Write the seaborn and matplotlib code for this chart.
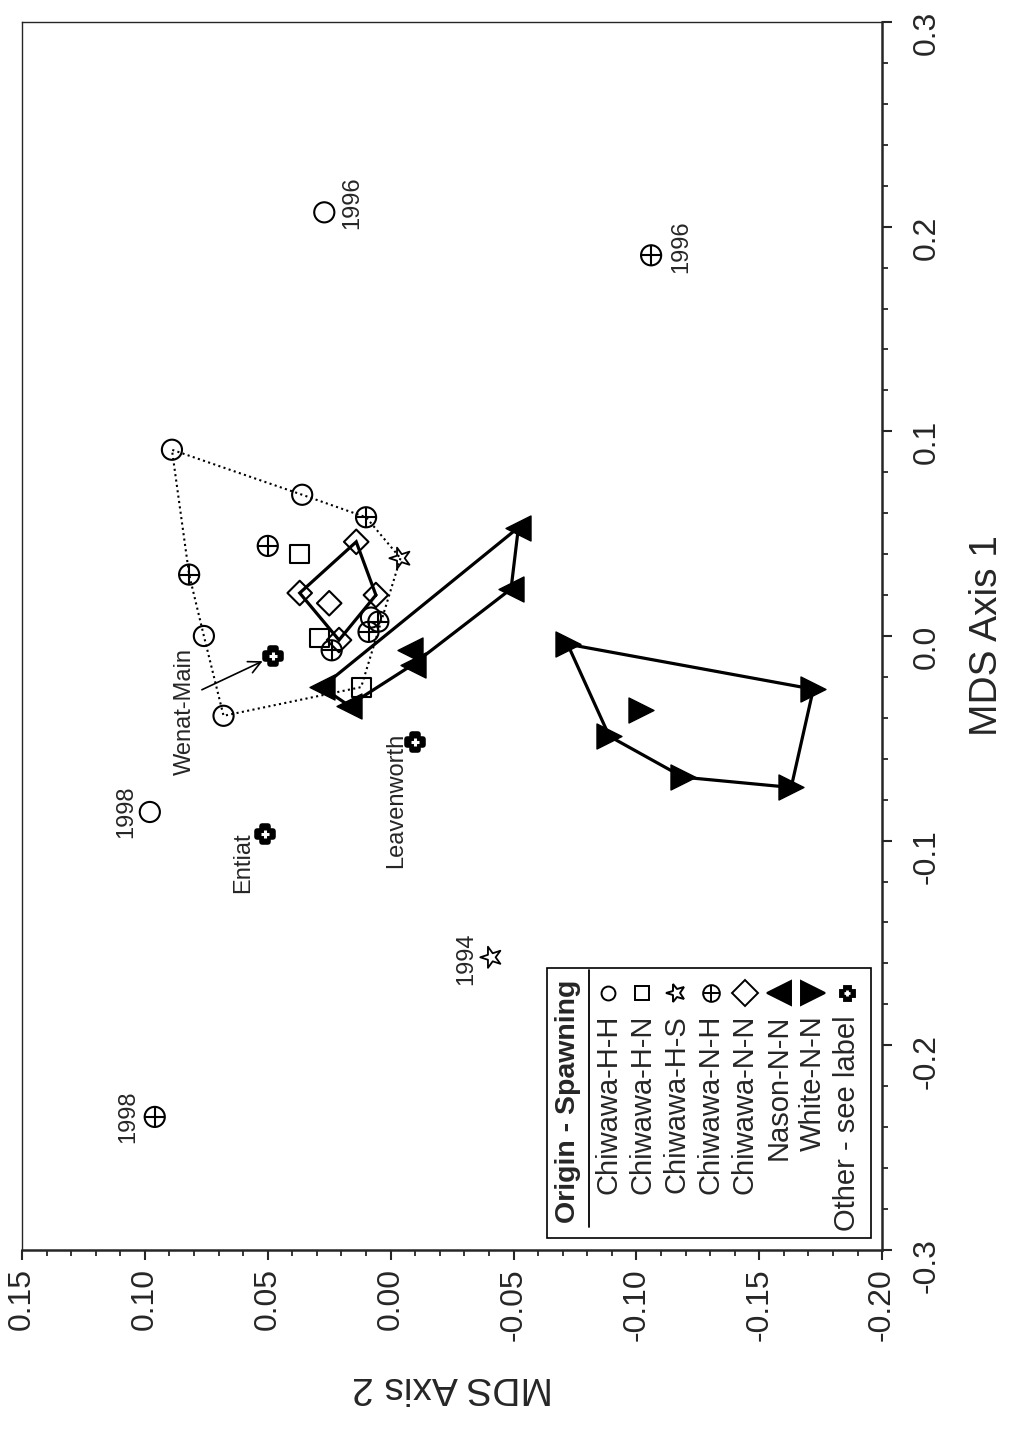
import matplotlib
matplotlib.use("Agg")
import matplotlib.pyplot as plt
import seaborn as sns
import pandas as pd
from matplotlib.markers import MarkerStyle
from matplotlib.transforms import Affine2D
from matplotlib.ticker import MultipleLocator, FuncFormatter
from matplotlib.patches import Rectangle

# MDS scores (axis 1, axis 2) for each origin - spawning group
hh_ax1 = [0.207, 0.091, 0.069, 0.009, 0.000, -0.039, -0.086]
hh_ax2 = [0.027, 0.089, 0.036, 0.008, 0.076, 0.068, 0.098]
hh_lab = ["1996", "", "", "", "", "", "1998"]

hn_ax1 = [0.040, -0.001, -0.025]
hn_ax2 = [0.037, 0.029, 0.012]
hn_lab = ["", "", ""]

hs_ax1 = [0.038, -0.157]
hs_ax2 = [-0.004, -0.041]
hs_lab = ["", "1994"]

nh_ax1 = [0.186, 0.058, 0.044, 0.030, 0.007, 0.002, -0.007, -0.235]
nh_ax2 = [-0.106, 0.010, 0.050, 0.082, 0.005, 0.009, 0.024, 0.096]
nh_lab = ["1996", "", "", "", "", "", "", "1998"]

nn_ax1 = [0.046, 0.021, 0.016, 0.020, -0.002]
nn_ax2 = [0.014, 0.037, 0.025, 0.006, 0.021]

nason_ax1 = [-0.025, -0.034, -0.007, -0.014, 0.023, 0.053]
nason_ax2 = [0.028, 0.017, -0.008, -0.009, -0.049, -0.052]

white_ax1 = [-0.004, -0.026, -0.074, -0.069, -0.049, -0.036]
white_ax2 = [-0.072, -0.172, -0.163, -0.119, -0.089, -0.102]

other_ax1 = [-0.010, -0.052, -0.097]
other_ax2 = [0.048, -0.010, 0.051]
other_lab = ["Wenat-Main", "Leavenworth", "Entiat"]

legend_names = ["Chiwawa-H-H", "Chiwawa-H-N", "Chiwawa-H-S", "Chiwawa-N-H",
                "Chiwawa-N-N", "Nason-N-N", "White-N-N", "Other - see label"]

# label offsets in points (the whole figure is turned 90 degrees)
year_offsets = {("hh", "1996"): (20, 7), ("nh", "1996"): (22, 6),
                ("hh", "1998"): (-17, 0), ("nh", "1998"): (-19, 0),
                ("hs", "1994"): (-18, -1)}
other_offsets = {"Wenat-Main": (-63, -40), "Leavenworth": (-14, -42), "Entiat": (-16, -20)}


def convex_hull(xs, ys):
    pts = sorted(set(zip(xs, ys)))

    def cross(o, a, b):
        return (a[0] - o[0]) * (b[1] - o[1]) - (a[1] - o[1]) * (b[0] - o[0])

    lower, upper = [], []
    for p in pts:
        while len(lower) >= 2 and cross(lower[-2], lower[-1], p) <= 0:
            lower.pop()
        lower.append(p)
    for p in reversed(pts):
        while len(upper) >= 2 and cross(upper[-2], upper[-1], p) <= 0:
            upper.pop()
        upper.append(p)
    h = lower[:-1] + upper[:-1]
    h.append(h[0])
    return [p[0] for p in h], [p[1] for p in h]


sns.set_style("ticks")
plt.rcParams["font.family"] = ["Liberation Sans", "DejaVu Sans"]

fig = plt.figure(figsize=(10.11, 14.29), dpi=100)
ax = fig.add_axes([0.0218, 0.1253, 0.8507, 0.8593])

rot = lambda m, a: MarkerStyle(m, transform=Affine2D().rotate_deg(a))
m_star = rot("*", 90)
m_nason = MarkerStyle("<")
m_white = MarkerStyle(">")


def pts(x, y, marker, ms, fill="none", lw=1.5, color="black", z=4):
    kw = dict(marker=marker, s=ms ** 2, linewidth=lw, color=color, ax=ax, zorder=z, legend=False)
    if MarkerStyle(marker).is_filled():
        kw.update(facecolor=fill, edgecolor="black")
    sns.scatterplot(x=x, y=y, **kw)


# hulls (x = axis 2, y = axis 1)
keep = lambda a, lab: [v for v, l in zip(a, lab) if l == ""]
chi_x = keep(hh_ax2, hh_lab) + hn_ax2 + keep(hs_ax2, hs_lab) + keep(nh_ax2, nh_lab)
chi_y = keep(hh_ax1, hh_lab) + hn_ax1 + keep(hs_ax1, hs_lab) + keep(nh_ax1, nh_lab)
hx, hy = convex_hull(chi_x, chi_y)
ax.plot(hx, hy, color="black", lw=1.5, ls=(0, (1, 1.6)), zorder=2)
for gx, gy in [(nn_ax2, nn_ax1), (nason_ax2, nason_ax1), (white_ax2, white_ax1)]:
    hx, hy = convex_hull(gx, gy)
    ax.plot(hx, hy, color="black", lw=2.3, solid_joinstyle="miter", zorder=2)

# points
pts(hh_ax2, hh_ax1, "o", 14.5)
pts(hn_ax2, hn_ax1, "s", 13.5)
pts(hs_ax2, hs_ax1, m_star, 16, lw=1.3)
pts(nh_ax2, nh_ax1, "o", 14.5)
pts(nh_ax2, nh_ax1, "+", 14.5, lw=1.5)
pts(nn_ax2, nn_ax1, "D", 12.5)
pts(nason_ax2, nason_ax1, m_nason, 18, fill="black", lw=1)
pts(white_ax2, white_ax1, m_white, 18, fill="black", lw=1)
pts(other_ax2, other_ax1, "P", 11.5, fill="black", lw=4)
pts(other_ax2, other_ax1, "+", 5.5, color="white", lw=2.2, z=5)

# year labels
for key, x, y, lab in ([("hh", a, b, c) for a, b, c in zip(hh_ax2, hh_ax1, hh_lab)] +
                       [("nh", a, b, c) for a, b, c in zip(nh_ax2, nh_ax1, nh_lab)] +
                       [("hs", a, b, c) for a, b, c in zip(hs_ax2, hs_ax1, hs_lab)]):
    if lab:
        ax.annotate(lab, (x, y), xytext=year_offsets[(key, lab)], textcoords="offset points",
                    rotation=90, ha="center", va="center", fontsize=17)

for x, y, lab in zip(other_ax2, other_ax1, other_lab):
    ax.annotate(lab, (x, y), xytext=other_offsets[lab], textcoords="offset points",
                rotation=90, ha="center", va="center", fontsize=17)
    if lab == "Wenat-Main":
        ax.annotate("", (x, y), xytext=(-51, -24), textcoords="offset points",
                    arrowprops=dict(arrowstyle="->", lw=1.2, color="black",
                                    shrinkA=0, shrinkB=8, mutation_scale=22))

# axes
ax.set_xlim(0.15, -0.20)
ax.set_ylim(-0.3, 0.3)
ax.xaxis.set_major_locator(MultipleLocator(0.05))
ax.xaxis.set_minor_locator(MultipleLocator(0.01))
ax.yaxis.set_major_locator(MultipleLocator(0.1))
ax.yaxis.set_minor_locator(MultipleLocator(0.02))
ax.xaxis.set_major_formatter(FuncFormatter(lambda v, p: f"{round(v, 2) + 0:.2f}"))
ax.yaxis.set_major_formatter(FuncFormatter(lambda v, p: f"{round(v, 1) + 0:.1f}"))
ax.yaxis.tick_right()
ax.yaxis.set_label_position("right")
ax.tick_params(axis="x", which="major", direction="out", length=7, width=1.5,
               labelsize=23, labelrotation=90, pad=6)
ax.tick_params(axis="y", which="major", direction="out", length=7, width=1.5,
               labelsize=23, labelrotation=90, pad=14)
ax.tick_params(which="minor", direction="out", length=4, width=1.3)
for side in ["bottom", "right"]:
    ax.spines[side].set_linewidth(1.8)
for side in ["top", "left"]:
    ax.spines[side].set_linewidth(1.0)
ax.set_xlabel("MDS Axis 2", rotation=180, fontsize=28, labelpad=20)
ax.set_ylabel("MDS Axis 1", rotation=90, fontsize=28, labelpad=20)

# legend, drawn turned like the rest of the figure
ax.add_patch(Rectangle((0.6105, 0.0098), 0.3767, 0.2198, transform=ax.transAxes,
                       facecolor="white", edgecolor="black", lw=1.2, zorder=6))
ax.text(0.6349, 0.1213, "Origin - Spawning", transform=ax.transAxes, rotation=90,
        ha="center", va="center", fontsize=20.5, fontweight="bold", zorder=7)
ax.plot([0.6593, 0.6593], [0.0187, 0.228], transform=ax.transAxes, color="black", lw=1.3, zorder=7)
leg_markers = [("o", 10, "none"), ("s", 9.5, "none"), (m_star, 14, "none"), ("o", 12, "none"),
               ("D", 13, "none"), (m_nason, 17, "black"), (m_white, 17, "black"), ("P", 9, "black")]
for i, (name, (mk, ms, fc)) in enumerate(zip(legend_names, leg_markers)):
    lx = 0.6814 + i * 0.0397
    ax.text(lx, 0.1914, name, transform=ax.transAxes, rotation=90, ha="center", va="top",
            fontsize=21, zorder=7)
    ax.plot([lx], [0.2093], ls="none", marker=mk, ms=ms, mfc=fc, mec="black",
            mew=3.5 if mk == "P" else 1.4, transform=ax.transAxes, zorder=7, clip_on=False)
    if name == "Chiwawa-N-H":
        ax.plot([lx], [0.2093], ls="none", marker="+", ms=ms, mec="black", mew=1.4,
                transform=ax.transAxes, zorder=8)
    if mk == "P":
        ax.plot([lx], [0.2093], ls="none", marker="+", ms=4.5, mec="white", mew=2,
                transform=ax.transAxes, zorder=8)

fig.savefig("out.png", dpi=100)
